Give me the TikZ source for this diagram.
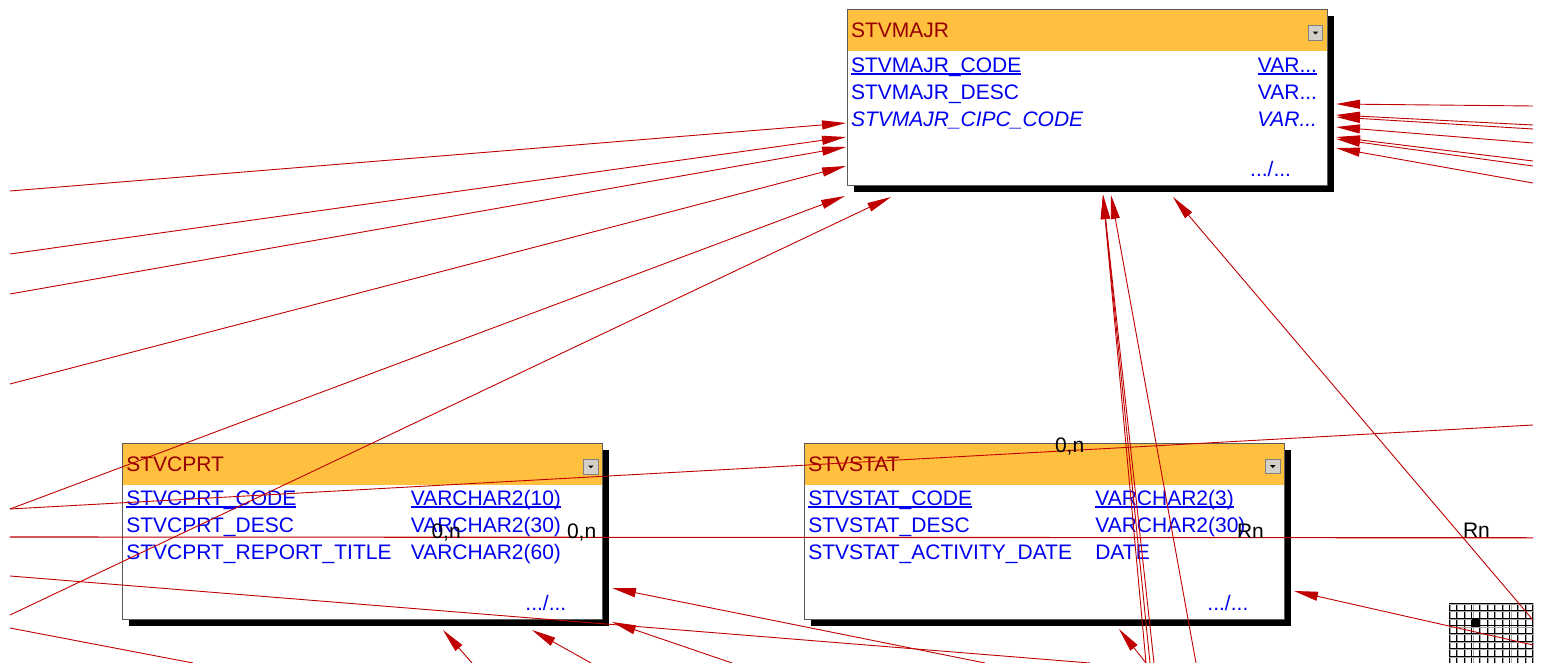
\documentclass[tikz,border=0pt]{standalone}
\usepackage{fontspec}
\setmainfont{Liberation Sans}
\usetikzlibrary{arrows.meta,calc}
\definecolor{relred}{RGB}{192,0,0}
\definecolor{hdr}{RGB}{255,192,64}
\definecolor{ttl}{RGB}{150,0,0}
\definecolor{fldblue}{RGB}{0,0,240}
\definecolor{bordergray}{RGB}{90,90,90}
\definecolor{btngray}{RGB}{212,208,200}
\newcommand\ertable[4]{%
  \fill[black] ($(#2,#3)+(7,7)$) rectangle ++(480,176);
  \node[tbl] (#1) at (#2,#3) {};
  \fill[hdr] (#1.north west) rectangle ($(#1.north east)+(0,41.5)$);
  \draw[draw=bordergray,line width=1pt] (#1.north west) rectangle (#1.south east);
  \node[ttlstyle] (#1-title) at ($(#1.north west)+(4,28)$) {#4};
  \node[btn] (#1-btn) at ($(#1.north east)+(-11.5,23.5)$) {};
  \fill[black] ($(#1-btn.center)+(-2.7,-1.3)$) -- ++(5.4,0) -- ++(-2.7,2.8) -- cycle;
  \node[fld,anchor=base east] (#1-more) at ($(#1.north east)+(-36,167)$) {.../...};
}
\newcommand\ulinenode[1]{%
  \draw[fldblue,line width=1.8pt] ($(#1.base west)+(0,1.3)$) -- ($(#1.base east)+(0,1.3)$);}
\begin{document}
\begin{tikzpicture}[x=1pt,y=-1pt,
  every node/.style={font=\fontsize{21}{25}\selectfont, inner sep=0pt, outer sep=0pt},
  tbl/.style={draw=bordergray, line width=1pt, fill=white, minimum width=480pt, minimum height=176pt, anchor=north west},
  ttlstyle/.style={text=ttl, anchor=base west},
  btn/.style={draw=gray, line width=0.8pt, fill=btngray, minimum width=14.5pt, minimum height=14.5pt},
  fld/.style={text=fldblue, anchor=base west},
  lbl/.style={text=black, anchor=base west},
  rel/.style={draw=relred, line width=0.9pt},
  relarr/.style={rel, -{Triangle[length=24pt,width=9pt]}},
  gridblack/.style={draw=black, line width=0.9pt},
  gridgray/.style={draw=gray!70, line width=0.9pt}]
\useasboundingbox (0,0) rectangle (1542,663);

% ---------- tables ----------
\ertable{majr}{847}{9.5}{STVMAJR}
\node[fld] (majr-c1) at ($(majr.north west)+(4,63)$) {STVMAJR\_CODE};
\node[fld,anchor=base east] (majr-t1) at ($(majr.north east)+(-10,63)$) {VAR...};
\ulinenode{majr-c1}\ulinenode{majr-t1}
\node[fld] (majr-c2) at ($(majr.north west)+(4,90)$) {STVMAJR\_DESC};
\node[fld,anchor=base east] (majr-t2) at ($(majr.north east)+(-10,90)$) {VAR...};
\node[fld] (majr-c3) at ($(majr.north west)+(4,117)$) {\itshape STVMAJR\_CIPC\_CODE};
\node[fld,anchor=base east] (majr-t3) at ($(majr.north east)+(-10,117)$) {\itshape VAR...};

\ertable{cprt}{122.3}{443.3}{STVCPRT}
\node[fld] (cprt-c1) at ($(cprt.north west)+(4,62.5)$) {STVCPRT\_CODE};
\node[fld] (cprt-t1) at ($(cprt.north west)+(288.5,62.5)$) {VARCHAR2(10)};
\ulinenode{cprt-c1}\ulinenode{cprt-t1}
\node[fld] (cprt-c2) at ($(cprt.north west)+(4,89.5)$) {STVCPRT\_DESC};
\node[fld] (cprt-t2) at ($(cprt.north west)+(288.5,89.5)$) {VARCHAR2(30)};
\node[fld] (cprt-c3) at ($(cprt.north west)+(4,116.5)$) {STVCPRT\_REPORT\_TITLE};
\node[fld] (cprt-t3) at ($(cprt.north west)+(288.5,116.5)$) {VARCHAR2(60)};

\ertable{stat}{804.3}{443}{STVSTAT}
\node[fld] (stat-c1) at ($(stat.north west)+(4,62.5)$) {STVSTAT\_CODE};
\node[fld] (stat-t1) at ($(stat.north west)+(291,62.5)$) {VARCHAR2(3)};
\ulinenode{stat-c1}\ulinenode{stat-t1}
\node[fld] (stat-c2) at ($(stat.north west)+(4,89.5)$) {STVSTAT\_DESC};
\node[fld] (stat-t2) at ($(stat.north west)+(291,89.5)$) {VARCHAR2(30)};
\node[fld] (stat-c3) at ($(stat.north west)+(4,116.5)$) {STVSTAT\_ACTIVITY\_DATE};
\node[fld] (stat-t3) at ($(stat.north west)+(291,116.5)$) {DATE};

% ---------- overview grid ----------
\foreach \i in {0,...,11} {
  \draw[gridgray] ({1450.2+7.6*\i},603) -- ({1450.2+7.6*\i},663);
  \draw[gridblack] ({1449+7.6*\i},603) -- ({1449+7.6*\i},663);}
\foreach \j in {0,...,7} {
  \draw[gridgray] (1449,{604.2+7.6*\j}) -- (1533,{604.2+7.6*\j});
  \draw[gridblack] (1449,{603+7.6*\j}) -- (1533,{603+7.6*\j});}
\fill[black] (1472,619) rectangle (1480,626.5);

% ---------- connector end points ----------
\coordinate (la) at (10,191);  \coordinate (ta) at (846,123);
\coordinate (lb) at (10,254);  \coordinate (tb) at (846,137);
\coordinate (lc) at (10,294);  \coordinate (tc) at (846,147);
\coordinate (ld) at (10,384);  \coordinate (td) at (846,166);
\coordinate (le) at (10,509);  \coordinate (te) at (845,196);
\coordinate (lf) at (10,615);  \coordinate (tf) at (891,197);
\coordinate (rg) at (1533,425);
\coordinate (hleft) at (10,537);  \coordinate (hright) at (1533,537.8);
\coordinate (li) at (10,576);  \coordinate (bi) at (1090,663);
\coordinate (ti) at (612,622);
\coordinate (lj) at (10,628);  \coordinate (bj) at (193,663);
\coordinate (bk) at (472,663); \coordinate (tk) at (443,630);
\coordinate (bl) at (591,663); \coordinate (tl) at (532,630);
\coordinate (bm) at (985,663); \coordinate (tm) at (612,588);
\coordinate (bn) at (732,663);
\coordinate (bp) at (1146,663); \coordinate (tp) at (1119,629);
\coordinate (bq1) at (1146,663); \coordinate (bq2) at (1150,663); \coordinate (bq3) at (1154,663);
\coordinate (tq) at (1103,195);
\coordinate (br) at (1196,663); \coordinate (tr) at (1111,195);
\coordinate (rs) at (1533,620); \coordinate (ts) at (1173,197);
\coordinate (rt) at (1533,645); \coordinate (tt) at (1294,591);
\coordinate (ru1) at (1533,106); \coordinate (tu1) at (1336,104);
\coordinate (ru2) at (1533,125); \coordinate (tu2) at (1336,115);
\coordinate (ru3) at (1533,129); \coordinate (tu3) at (1336,117);
\coordinate (ru4) at (1533,143); \coordinate (tu4) at (1336,127);
\coordinate (ru5) at (1533,161); \coordinate (tu5) at (1336,137);
\coordinate (ru6) at (1533,166); \coordinate (tu6) at (1336,139);
\coordinate (ru7) at (1533,183); \coordinate (tu7) at (1336,148);

% ---------- connectors ----------
\draw[relarr] (la) -- (ta);
\draw[relarr] (lb) -- (tb);
\draw[relarr] (lc) -- (tc);
\draw[relarr] (ld) -- (td);
\draw[relarr] (le) -- (te);
\draw[relarr] (lf) -- (tf);
\draw[rel] (le) -- (rg);
\draw[draw=relred, line width=1.1pt] (hleft) -- (hright);
\draw[rel] (li) -- (bi);
\draw[rel] (lj) -- (bj);
\draw[relarr] (bk) -- (tk);
\draw[relarr] (bl) -- (tl);
\draw[relarr] (bm) -- (tm);
\draw[relarr] (bn) -- (ti);
\draw[relarr] (bp) -- (tp);
\draw[relarr] (bq1) -- (tq);
\draw[relarr] (bq2) -- (tq);
\draw[relarr] (bq3) -- (tq);
\draw[relarr] (br) -- (tr);
\draw[relarr] (rs) -- (ts);
\draw[relarr] (rt) -- (tt);
\foreach \k in {1,...,7} \draw[relarr] (ru\k) -- (tu\k);

% ---------- cardinality labels ----------
\node[lbl] (l1) at (431.5,538) {0,n};
\node[lbl] (l2) at (567,538) {0,n};
\node[lbl] (l3) at (1055,452.5) {0,n};
\node[lbl] (l4) at (1237,538) {Rn};
\node[lbl] (l5) at (1463,537.5) {Rn};
\end{tikzpicture}
\end{document}
